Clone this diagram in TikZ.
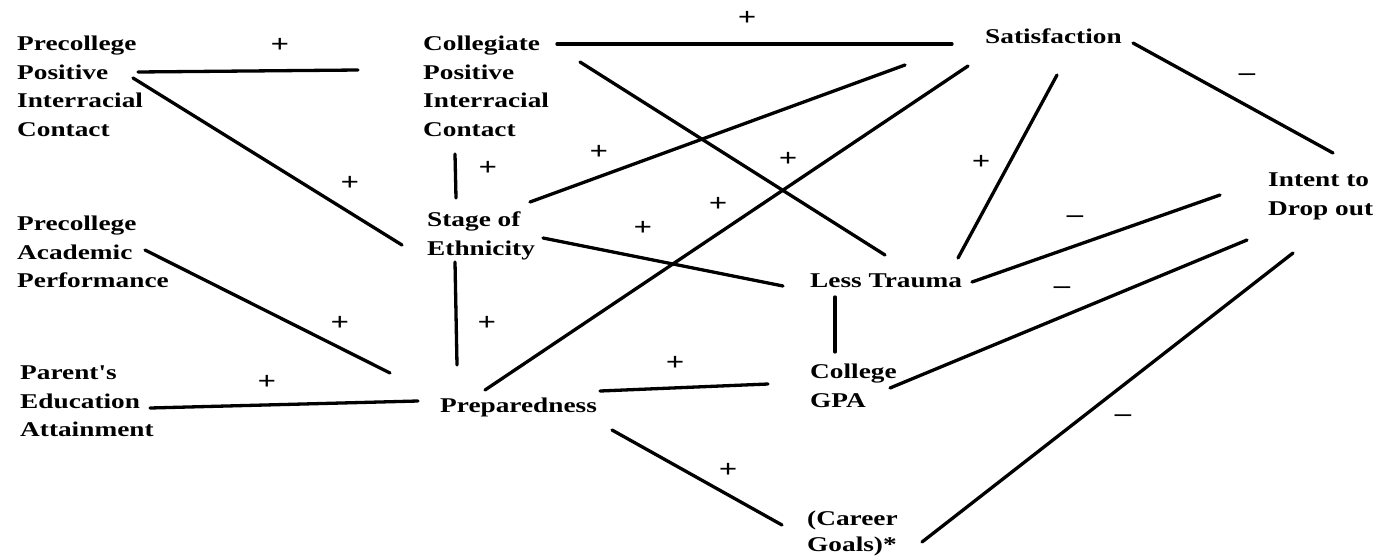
\documentclass[tikz,border=0pt]{standalone}
\usepackage{fontspec}
\newfontfamily\dfont{Liberation Serif}[FakeStretch=1.3]
\begin{document}
\begin{tikzpicture}[x=1pt,y=-1pt,
  txt/.style={anchor=north west, inner sep=0pt, align=left,
    font=\dfont\bfseries\fontsize{21}{28.5}\selectfont},
  sgn/.style={inner sep=0pt, font=\dfont\bfseries\fontsize{25}{25}\selectfont},
  link/.style={line width=3.3pt, line cap=round}]
\useasboundingbox[fill=white] (0,0) rectangle (1386,557);
% nodes
\node[txt] (ppic) at (17,36) {Precollege\\Positive\\Interracial\\Contact};
\node[txt] (cpic) at (423,36) {Collegiate\\Positive\\Interracial\\Contact};
\node[txt] (sat) at (985,29) {Satisfaction};
\node[txt] (intent) at (1268,173) {Intent to\\Drop out};
\node[txt] (pap) at (17,216) {Precollege\\Academic\\Performance};
\node[txt] (stage) at (427,212) {Stage of\\Ethnicity};
\node[txt] (less) at (810,274) {Less Trauma};
\node[txt] (parent) at (20,366) {Parent's\\Education\\Attainment};
\node[txt] (prep) at (440,398) {Preparedness};
\node[txt] (gpa) at (810,364) {College\\GPA};
\node[txt, font=\dfont\bfseries\fontsize{21}{25.5}\selectfont] (career) at (807,511) {(Career\\Goals)*};
% connectors
\draw[link] ([shift={(121,36)}]ppic.north west) -- ([shift={(-65,34)}]cpic.north west);
\draw[link] ([shift={(116,42)}]ppic.north west) -- ([shift={(-25,33)}]stage.north west);
\draw[link] ([shift={(134,8)}]cpic.north west) -- ([shift={(-33,15)}]sat.north west);
\draw[link] ([shift={(157,26)}]cpic.north west) -- ([shift={(75,-19)}]less.north west);
\draw[link] ([shift={(103,-10)}]stage.north west) -- ([shift={(-80,36)}]sat.north west);
\draw[link] ([shift={(45,-8)}]prep.north west) -- ([shift={(-17,37)}]sat.north west);
\draw[link] ([shift={(32,118)}]cpic.north west) -- ([shift={(29,-14)}]stage.north west);
\draw[link] ([shift={(116,26)}]stage.north west) -- ([shift={(-27,12)}]less.north west);
\draw[link] ([shift={(28,50)}]stage.north west) -- ([shift={(17,-33)}]prep.north west);
\draw[link] ([shift={(128,34)}]pap.north west) -- ([shift={(-50,-25)}]prep.north west);
\draw[link] ([shift={(130,42)}]parent.north west) -- ([shift={(-22,3)}]prep.north west);
\draw[link] ([shift={(160,-7)}]prep.north west) -- ([shift={(-42,20)}]gpa.north west);
\draw[link] ([shift={(172,32)}]prep.north west) -- ([shift={(-25,14)}]career.north west);
\draw[link] ([shift={(25,23)}]less.north west) -- ([shift={(25,-12)}]gpa.north west);
\draw[link] ([shift={(148,-16)}]less.north west) -- ([shift={(72,46)}]sat.north west);
\draw[link] ([shift={(162,8)}]less.north west) -- ([shift={(-48,22)}]intent.north west);
\draw[link] ([shift={(80,24)}]gpa.north west) -- ([shift={(-21,67)}]intent.north west);
\draw[link] ([shift={(115,31)}]career.north west) -- ([shift={(25,80)}]intent.north west);
\draw[link] ([shift={(148,14)}]sat.north west) -- ([shift={(65,-20)}]intent.north west);
% signs
\node[sgn] (s1) at (280,45) {+};
\node[sgn] (s2) at (350,183) {+};
\node[sgn] (s3) at (747,18) {+};
\node[sgn] (s4) at (788,159) {+};
\node[sgn] (s5) at (599,152) {+};
\node[sgn] (s6) at (718,204) {+};
\node[sgn] (s7) at (488,168) {+};
\node[sgn] (s8) at (643,228) {+};
\node[sgn] (s9) at (487,323) {+};
\node[sgn] (s10) at (340,323) {+};
\node[sgn] (s11) at (267,382) {+};
\node[sgn] (s12) at (675,363) {+};
\node[sgn] (s13) at (728,470) {+};
\node[sgn] (s14) at (981,162) {+};
\node[sgn] (s15) at (1075,219) {–};
\node[sgn] (s16) at (1062,290) {–};
\node[sgn] (s17) at (1123,418) {–};
\node[sgn] (s18) at (1247,77) {–};
\end{tikzpicture}
\end{document}
